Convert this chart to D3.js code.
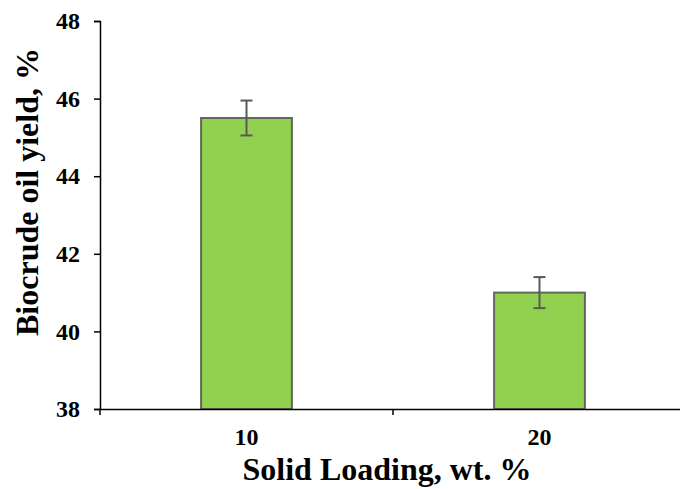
<!DOCTYPE html>
<html>
<head>
<meta charset="utf-8">
<script src="https://cdn.jsdelivr.net/npm/d3@7"></script>
<style>
  body { margin: 0; background: #fff; }
  svg { display: block; font-family: "Liberation Serif", "Times New Roman", serif; font-weight: bold; }
</style>
</head>
<body>
<svg id="chart"></svg>
<script>
// dados
const categories = ["10", "20"]
const yieldValues = [45.5, 41.0]
const errorValues = [0.45, 0.4]
const yTicks = [38, 40, 42, 44, 46, 48]

const width = 680
const height = 489
const margin = { top: 21, right: -6, bottom: 80, left: 100 }

const svg = d3.select("#chart")
    .attr("width", width)
    .attr("height", height)

const x = d3.scaleBand()
    .domain(categories)
    .range([margin.left, width - margin.right])
    .paddingInner(0)
    .paddingOuter(0)

const y = d3.scaleLinear()
    .domain([38, 48])
    .range([height - margin.bottom, margin.top])

const barW = x.bandwidth() * 0.31

// barras
svg.selectAll("rect.bar")
    .data(categories)
    .enter()
    .append("rect")
    .attr("class", "bar")
    .attr("x", (d) => x(d) + x.bandwidth() / 2 - barW / 2)
    .attr("y", (d, i) => y(yieldValues[i]))
    .attr("width", barW)
    .attr("height", (d, i) => y(38) - y(yieldValues[i]))
    .attr("fill", "#92d050")
    .attr("stroke", "#5f6a5c")
    .attr("stroke-width", 2)

// barras de erro
const err = svg.selectAll("g.err")
    .data(categories)
    .enter()
    .append("g")
    .attr("class", "err")
    .attr("stroke", "#595959")
    .attr("stroke-width", 2)

err.append("line")
    .attr("x1", (d) => x(d) + x.bandwidth() / 2)
    .attr("x2", (d) => x(d) + x.bandwidth() / 2)
    .attr("y1", (d, i) => y(yieldValues[i] + errorValues[i]))
    .attr("y2", (d, i) => y(yieldValues[i] - errorValues[i]))

err.selectAll("line.cap")
    .data((d, i) => [[d, yieldValues[i] + errorValues[i]], [d, yieldValues[i] - errorValues[i]]])
    .enter()
    .append("line")
    .attr("class", "cap")
    .attr("x1", (d) => x(d[0]) + x.bandwidth() / 2 - 6)
    .attr("x2", (d) => x(d[0]) + x.bandwidth() / 2 + 6)
    .attr("y1", (d) => y(d[1]))
    .attr("y2", (d) => y(d[1]))

// eixo y
const yAxis = svg.append("g")
    .attr("transform", `translate(${margin.left},0)`)
    .call(d3.axisLeft(y).tickValues(yTicks).tickSize(6).tickPadding(14).tickFormat(d3.format("d")))

yAxis.select(".domain").attr("stroke", "#000").attr("stroke-width", 1.5)
yAxis.selectAll(".tick line").attr("stroke", "#000").attr("stroke-width", 1.5)
yAxis.selectAll(".tick text")
    .attr("fill", "#000")
    .style("font-size", "24px")
    .style("font-family", "Liberation Serif")
    .style("font-weight", "bold")

// eixo x
const xAxisY = y(38)
const xAxis = svg.append("g")
    .attr("transform", `translate(0,${xAxisY})`)
    .call(d3.axisBottom(x).tickSize(0).tickPadding(19))

xAxis.select(".domain").attr("stroke", "#000").attr("stroke-width", 1.5)
xAxis.selectAll(".tick text")
    .attr("fill", "#000")
    .style("font-size", "24px")
    .style("font-family", "Liberation Serif")
    .style("font-weight", "bold")

// marcas entre categorias
const boundaries = [x.range()[0], x(categories[1])]
xAxis.selectAll("line.sep")
    .data(boundaries)
    .enter()
    .append("line")
    .attr("class", "sep")
    .attr("x1", (d) => d)
    .attr("x2", (d) => d)
    .attr("y1", 0)
    .attr("y2", 6)
    .attr("stroke", "#000")
    .attr("stroke-width", 1.5)

// titulos
svg.append("text")
    .attr("x", 387)
    .attr("y", 480)
    .attr("text-anchor", "middle")
    .style("font-size", "32px")
    .text("Solid Loading, wt. %")

svg.append("text")
    .attr("transform", "translate(38,192) rotate(-90)")
    .attr("text-anchor", "middle")
    .style("font-size", "32px")
    .text("Biocrude oil yield, %")
</script>
</body>
</html>
